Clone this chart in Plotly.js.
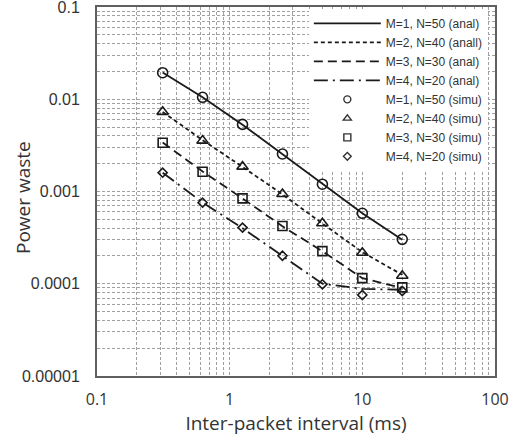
<!DOCTYPE html>
<html>
<head>
<meta charset="utf-8">
<script src="https://cdn.plot.ly/plotly-3.0.1.min.js"></script>
<style>html,body{margin:0;padding:0;background:#fff;}#chart{width:522px;height:438px;}</style>
</head>
<body>
<div id="chart"></div>
<script>
// Inter-packet interval (ms)
var interval = [0.3125, 0.625, 1.25, 2.5, 5, 10, 20];

// analytical results
var anal1 = [0.0195, 0.0105, 0.0053, 0.00255, 0.0012, 0.00058, 0.0003];
var anal2 = [0.0073, 0.0036, 0.00185, 0.00093, 0.00045, 0.00022, 0.000125];
var anal3 = [0.0034, 0.00165, 0.00084, 0.00042, 0.000225, 0.000115, 0.00009];
var anal4 = [0.0016, 0.00076, 0.0004, 0.0002, 0.0001, 0.000088, 0.000086];

// simulation results
var simu1 = [0.0194, 0.0105, 0.00534, 0.00255, 0.0012, 0.00058, 0.000303];
var simu2 = [0.0073, 0.00356, 0.00186, 0.00094, 0.000452, 0.000217, 0.000122];
var simu3 = [0.00338, 0.00164, 0.000843, 0.000423, 0.000226, 0.000115, 0.0000914];
var simu4 = [0.0016, 0.000757, 0.000406, 0.000201, 0.0000986, 0.0000755, 0.0000834];

var analNames = ['M=1, N=50 (anal)', 'M=2, N=40 (anall)', 'M=3, N=30 (anal)', 'M=4, N=20 (anal)'];
var simuNames = ['M=1, N=50 (simu)', 'M=2, N=40 (simu)', 'M=3, N=30 (simu)', 'M=4, N=20 (simu)'];

// tick positions (decades labelled, minor positions unlabelled)
var xTickVals = [0.1,0.2,0.3,0.4,0.5,0.6,0.7,0.8,0.9,1,2,3,4,5,6,7,8,9,10,20,30,40,50,60,70,80,90,100];
var xTickText = xTickVals.map(function(v){ return [0.1,1,10,100].indexOf(v) >= 0 ? String(v) : ''; });
var yDecades = [0.00001, 0.0001, 0.001, 0.01, 0.1];
var yDecadeText = ['0.00001', '0.0001', '0.001', '0.01', '0.1'];
var yTickVals = [], yTickText = [];
yDecades.forEach(function(d, i){
  if (i < yDecades.length - 1) {
    for (var k = 1; k <= 9; k++) {
      yTickVals.push(d * k);
      yTickText.push(k === 1 ? yDecadeText[i] : '');
    }
  } else {
    yTickVals.push(d); yTickText.push(yDecadeText[i]);
  }
});

var analSeries = [anal1, anal2, anal3, anal4];
var simuSeries = [simu1, simu2, simu3, simu4];
var dashes = ['solid', '4px,3px', '9px,5px', '14px,5px,2px,5px'];
var symbols = ['circle-open', 'triangle-up-open', 'square-open', 'diamond-open'];
var sizes = [10, 10, 9, 7];
var legendSizes = [7, 7, 7, 6];

var traces = [];
analSeries.forEach(function(s, i){
  traces.push({
    x: interval, y: s, name: analNames[i], type: 'scatter', mode: 'lines',
    line: {color: '#1a1a1a', width: 1.8, dash: dashes[i]}
  });
});
simuSeries.forEach(function(s, i){
  traces.push({
    x: interval, y: s, name: simuNames[i], type: 'scatter', mode: 'markers',
    showlegend: false, legendgroup: 'simu' + i,
    marker: {symbol: symbols[i], size: sizes[i], color: '#1a1a1a', line: {color: '#1a1a1a', width: 1.6}}
  });
});
// legend entries for the simulation markers (smaller symbols as in the original legend)
simuNames.forEach(function(n, i){
  traces.push({
    x: [null], y: [null], name: n, type: 'scatter', mode: 'markers',
    legendgroup: 'simu' + i,
    marker: {symbol: symbols[i], size: legendSizes[i], color: '#333333', line: {color: '#333333', width: 1.4}}
  });
});

var gridStyle = {gridcolor: '#a0a0a0', griddash: '3px,2px', gridwidth: 1};

var layout = {
  width: 522, height: 438,
  margin: {l: 97, r: 27, t: 7, b: 62},
  paper_bgcolor: '#ffffff', plot_bgcolor: '#ffffff',
  showlegend: true,
  legend: {
    x: 0.982, xanchor: 'right', y: 0.995, yanchor: 'top',
    bgcolor: '#ffffff', borderwidth: 0,
    font: {family: 'Liberation Sans, Arial, sans-serif', size: 12, color: '#333333'},
    itemwidth: 67, tracegroupgap: 0
  },
  xaxis: Object.assign({
    type: 'log', range: [-1.0001, 2.0001],
    tickmode: 'array', tickvals: xTickVals, ticktext: xTickText,
    showgrid: true, zeroline: false,
    showline: true, linecolor: '#606060', linewidth: 2, mirror: true,
    ticks: '', ticklabelstandoff: 8, ticklabeloverflow: 'allow',
    tickfont: {family: 'Open Sans, sans-serif', size: 16, color: '#333333'},
    title: {text: 'Inter-packet interval (ms)', font: {family: 'Open Sans, sans-serif', size: 19, color: '#333333'}, standoff: 3}
  }, gridStyle),
  yaxis: Object.assign({
    type: 'log', range: [-5.0001, -0.9999],
    tickmode: 'array', tickvals: yTickVals, ticktext: yTickText,
    showgrid: true, zeroline: false,
    showline: true, linecolor: '#606060', linewidth: 2, mirror: true,
    ticks: '', ticklabelstandoff: 12, ticklabeloverflow: 'allow',
    tickfont: {family: 'Liberation Sans, Arial, sans-serif', size: 16, color: '#333333'}
  }, gridStyle),
  annotations: [{
    text: 'Power waste', xref: 'paper', yref: 'paper',
    x: -0.186, y: 0.485, xanchor: 'center', yanchor: 'middle',
    textangle: -90, showarrow: false,
    font: {family: 'Open Sans, sans-serif', size: 19, color: '#333333'}
  }]
};

Plotly.newPlot('chart', traces, layout, {displayModeBar: false, staticPlot: true});
</script>
</body>
</html>
